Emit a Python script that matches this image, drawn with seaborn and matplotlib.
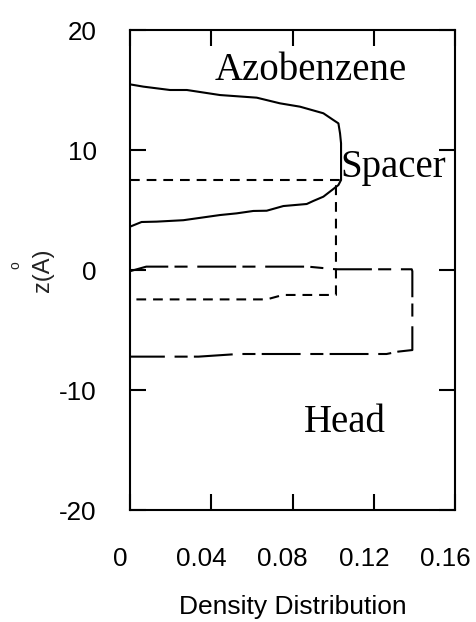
import matplotlib
matplotlib.use("Agg")
import matplotlib.pyplot as plt
import matplotlib.transforms as mtransforms
import seaborn as sns

# ---- data ----
azo_x = [0, 0.0066, 0.0197, 0.028, 0.0443, 0.0624, 0.0738, 0.0837, 0.0952, 0.1001,
         0.1026, 0.1034, 0.1039, 0.1039, 0.1026, 0.1001, 0.0952, 0.0902, 0.087, 0.0755,
         0.0673, 0.0607, 0.0525, 0.0443, 0.0263, 0.0131, 0.0057, 0]
azo_z = [15.47, 15.28, 15.0, 15.0, 14.58, 14.36, 13.89, 13.61, 13.06, 12.5,
         12.22, 11.39, 10.56, 7.5, 7.08, 6.75, 6.11, 5.75, 5.5, 5.33,
         4.94, 4.92, 4.72, 4.58, 4.15, 4.03, 4.0, 3.61]

spacer_x = [0, 0.1034, 0.1014, 0.1014, 0.0753, 0.0673, 0]
spacer_z = [7.5, 7.5, 7.0, -2.08, -2.08, -2.45, -2.45]

head_x = [0, 0.008, 0.0876, 0.1014, 0.1387, 0.139, 0.139, 0.1321, 0.1263, 0.0533, 0.0337, 0.0279, 0]
head_z = [-0.1, 0.28, 0.28, 0.06, 0.06, -0.1, -6.67, -6.8, -7.0, -7.0, -7.22, -7.22, -7.22]

x_ticks = [0, 0.04, 0.08, 0.12, 0.16]
x_tick_labels = ["0", "0.04", "0.08", "0.12", "0.16"]
y_ticks = [-20, -10, 0, 10, 20]
y_tick_labels = ["-20", "-10", "0", "10", "20"]

regions = ["Azobenzene", "Spacer", "Head"]
region_x = [0.0418, 0.1034, 0.0857]
region_z = [15.83, 7.78, -13.47]

# ---- style ----
sns.set_style("white")
plt.rcParams["font.family"] = ["Liberation Sans", "DejaVu Sans"]
plt.rcParams["lines.scale_dashes"] = False
plt.rcParams["text.color"] = "black"
plt.rcParams["axes.labelcolor"] = "black"
plt.rcParams["xtick.color"] = "black"
plt.rcParams["ytick.color"] = "black"

fig = plt.figure(figsize=(4.77, 6.22), dpi=100)
ax = fig.add_axes([130 / 477, 112 / 622, 325 / 477, 480 / 622])

lw = 1.5
sns.lineplot(x=azo_x, y=azo_z, sort=False, estimator=None, ax=ax,
             color="black", linewidth=lw)
sns.lineplot(x=spacer_x, y=spacer_z, sort=False, estimator=None, ax=ax,
             color="black", linewidth=lw)
sns.lineplot(x=head_x, y=head_z, sort=False, estimator=None, ax=ax,
             color="black", linewidth=lw)
lines = ax.get_lines()
lines[1].set_dashes((7.0, 5.0))
lines[2].set_dashes((28.0, 4.5, 9.4, 7.0))

ax.set_xlim(0, 0.16)
ax.set_ylim(-20, 20)
ax.set_xticks(x_ticks)
ax.set_xticklabels(x_tick_labels)
ax.set_yticks(y_ticks)
ax.set_yticklabels(y_tick_labels)

for s in ax.spines.values():
    s.set_visible(True)
    s.set_linewidth(1.5)
    s.set_color("black")

ax.tick_params(axis="both", which="major", direction="in", length=11.5, width=1.5,
               color="black", labelcolor="black", labelsize=18.7,
               top=True, right=True, bottom=True, left=True,
               labeltop=False, labelright=False, labelbottom=True, labelleft=True)
ax.tick_params(axis="x", pad=27)
ax.tick_params(axis="y", pad=24)

# x tick labels sit slightly left of their ticks in the reference
shift = mtransforms.ScaledTranslation(-10 / 100, 0, fig.dpi_scale_trans)
for lab in ax.get_xticklabels():
    lab.set_transform(lab.get_transform() + shift)

ax.set_xlabel("Density Distribution", fontsize=19)
ax.xaxis.set_label_coords(0.5, -0.178)
ax.set_ylabel("z(A)", fontsize=17, color="#222222")
ax.yaxis.set_label_coords(-0.235, 0.5)
ax.text(-0.354, 0.51, "o", transform=ax.transAxes, fontsize=10, rotation=90,
        ha="center", va="center", color="#222222")

for name, xx, zz in zip(regions, region_x, region_z):
    ax.text(xx, zz, name, fontsize=28, family="Liberation Serif",
            ha="left", va="baseline")

fig.savefig("out.png", dpi=100)
